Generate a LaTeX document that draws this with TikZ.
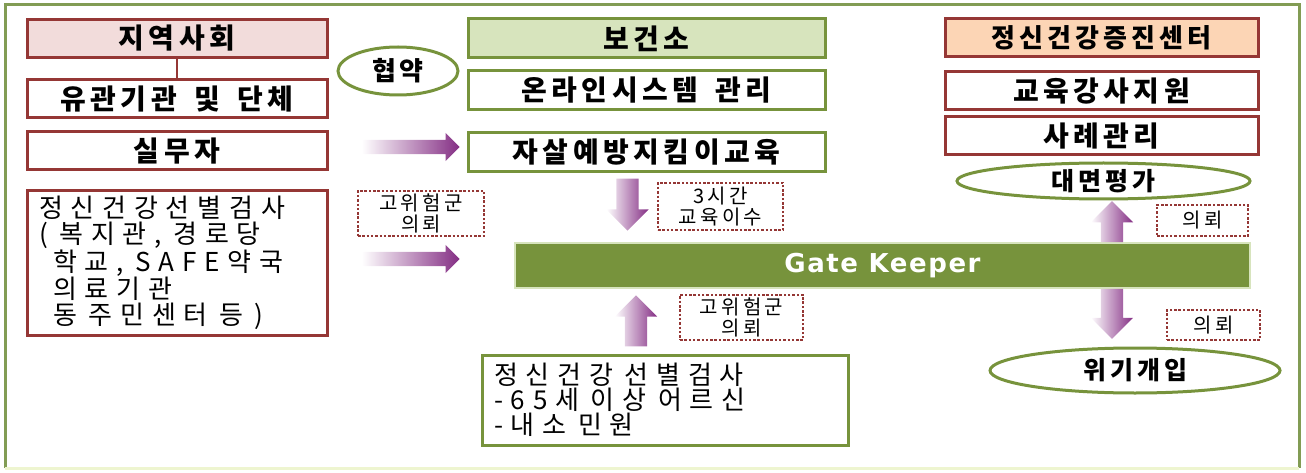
\documentclass[tikz,border=0pt]{standalone}
\usepackage{fontspec}
\setmainfont{Noto Sans CJK KR}[LetterSpace=16, WordSpace=1.6]
\newfontfamily\widefont{Noto Sans CJK KR}[LetterSpace=30]
\newfontfamily\gkfont{DejaVu Sans}[LetterSpace=6]
\usepackage{tikz}
\usetikzlibrary{calc,shapes}
\definecolor{olivegreen}{RGB}{119,147,60}
\definecolor{framegreen}{RGB}{130,156,84}
\definecolor{palegreen}{RGB}{238,245,208}
\definecolor{darkred}{RGB}{149,55,53}
\definecolor{pinkfill}{RGB}{242,220,219}
\definecolor{greenfill}{RGB}{215,228,189}
\definecolor{peachfill}{RGB}{252,213,181}
\definecolor{arrowviolet}{RGB}{132,46,132}
\tikzset{every picture/.style={x=1pt,y=-1pt}}
\tikzstyle{red_box} =
  [ rectangle
  , draw=darkred
  , line width=3pt
  , minimum height=38pt
  , inner sep=0pt
  , font=\fontsize{28}{30}\selectfont\bfseries
  ]
\tikzstyle{green_box} =
  [ rectangle
  , draw=olivegreen
  , line width=3pt
  , minimum width=357pt
  , minimum height=39pt
  , inner sep=0pt
  , font=\fontsize{28}{30}\selectfont\bfseries
  ]
\tikzstyle{text_box} =
  [ rectangle
  , line width=3pt
  , align=left
  , inner xsep=12pt
  , font=\widefont\fontsize{26}{26}\selectfont
  ]
\tikzstyle{green_ellipse} =
  [ ellipse
  , draw=olivegreen
  , line width=3pt
  , inner sep=0pt
  , font=\fontsize{25}{28}\selectfont\bfseries
  ]
\tikzstyle{dotted_note} =
  [ rectangle
  , draw=darkred
  , line width=2.5pt
  , dash pattern=on 2.5pt off 1.8pt
  , align=center
  , inner sep=0pt
  , font=\fontsize{20}{21}\selectfont
  ]
\tikzstyle{fat_arrow} =
  [ single arrow
  , inner sep=7pt
  , single arrow head extend=7pt
  , left color=white
  , right color=arrowviolet
  ]
\tikzstyle{fat_arrow_v} =
  [ fat_arrow
  , inner sep=11pt
  , single arrow head extend=10pt
  ]
\def\gap{\hspace{0.45em}}
\def\Jiyeok{지역사회}
\def\Yugwan{유관기관 및 단체}
\def\Silmu{실무자}
\def\Bogeon{보건소}
\def\Online{온라인시스템 관리}
\def\Gatekeeper{자살예방지킴이교육}
\def\Center{정신건강증진센터}
\def\Gangsa{교육강사지원}
\def\Sarye{사례관리}
\def\Uiroe{의뢰}
\def\Gowiheom{고위험군\\의뢰}

\begin{document}
\begin{tikzpicture}
    \useasboundingbox (0,0) rectangle (1306,473);
    % frame
    \draw[framegreen, line width=3pt] (5,468) -- (5,5) -- (1299,5) -- (1299,468);
    \draw[palegreen, line width=3pt] (5,468) -- (1299,468);

    % left column
    \node[red_box, fill=pinkfill, minimum width=300pt] (Jiyeok)  at (177, 38.5) {\Jiyeok};
    \node[red_box, minimum width=300pt]                (Yugwan)  at (177, 99)   {\Yugwan};
    \node[red_box, minimum width=300pt]                (Silmu)   at (177, 151)  {\Silmu};
    \node[text_box, draw=darkred, text width=276pt, minimum height=144pt] (Screening) at (177, 263)
      {정신건강선별검사\\(\gap 복지관,\gap 경로당\\\hspace*{14pt}학교,\gap SAFE약국\\\hspace*{14pt}의료기관\\\hspace*{14pt}동\gap 주민센터\gap 등\gap )};
    \draw[darkred, line width=2pt] (Jiyeok) -- (Yugwan);

    \node[green_ellipse, minimum width=120pt, minimum height=48pt, font=\fontsize{26}{28}\selectfont\bfseries] (Hyeobyak) at (398, 71) {협\hspace{4pt}약};
    \node[dotted_note, minimum width=126pt, minimum height=45pt]   (RefA)     at (421, 213.5) {\Gowiheom};

    % middle column
    \node[green_box, fill=greenfill] (Bogeon)     at (646.5, 38.5)  {\Bogeon};
    \node[green_box]                 (Online)     at (646.5, 90.5)  {\Online};
    \node[green_box]                 (Education)  at (646.5, 152.5) {\Gatekeeper};
    \node[rectangle, fill=olivegreen, draw=greenfill, line width=1.5pt, minimum width=735pt, minimum height=45pt,
          text=white, font=\gkfont\fontsize{26}{30}\selectfont\bfseries] (GateKeeper) at (882.5, 265.5) {Gate Keeper};
    \node[text_box, draw=olivegreen, text width=342pt, minimum height=90pt, font=\widefont\fontsize{26}{25}\selectfont] (Survey) at (665, 400)
      {정신건강\gap 선별검사\\-65세\gap 이상\gap 어르신\\-내소\gap 민원};
    \node[dotted_note, minimum width=125pt, minimum height=47pt] (Hours) at (720.5, 206.5) {3시간\\교육이수};
    \node[dotted_note, minimum width=123pt, minimum height=45pt] (RefB)  at (741.5, 317.5) {\Gowiheom};

    % right column
    \node[red_box, fill=peachfill, minimum width=313pt, font=\fontsize{26}{28}\selectfont\bfseries] (Center) at (1101.5, 38) {\Center};
    \node[red_box, minimum width=313pt] (Gangsa) at (1101.5, 91)  {\Gangsa};
    \node[red_box, minimum width=313pt] (Sarye)  at (1101.5, 136) {\Sarye};
    \node[green_ellipse, minimum width=293pt, minimum height=36pt] (FaceEval) at (1103.5, 181)   {대면평가};
    \node[green_ellipse, minimum width=290pt, minimum height=45pt] (Crisis)   at (1135, 370.5)   {위기개입};
    \node[dotted_note, minimum width=91pt, minimum height=31pt]    (RefC)     at (1202.5, 220.5) {\Uiroe};
    \node[dotted_note, minimum width=93pt, minimum height=30pt]    (RefD)     at (1213.5, 325)   {\Uiroe};

    % arrows
    \node[fat_arrow, anchor=tail, minimum height=98pt] at ($(Silmu.east)+(33,-4)$) {};
    \node[fat_arrow, anchor=tail, minimum height=98pt] at ($(Screening.east)+(33,-4)$) {};
    \node[fat_arrow_v, anchor=tail, shape border rotate=270, minimum height=52pt] at ($(Education.south)+(-19,5)$) {};
    \node[fat_arrow_v, anchor=tail, shape border rotate=90,  minimum height=51pt] at ($(Survey.north)+(-29,-7)$) {};
    \node[fat_arrow_v, anchor=tail, shape border rotate=90,  minimum height=41pt] at ($(GateKeeper.north)+(229.5,0)$) {};
    \node[fat_arrow_v, anchor=tail, shape border rotate=270, minimum height=50pt] at ($(GateKeeper.south)+(229.5,0)$) {};
\end{tikzpicture}
\end{document}
